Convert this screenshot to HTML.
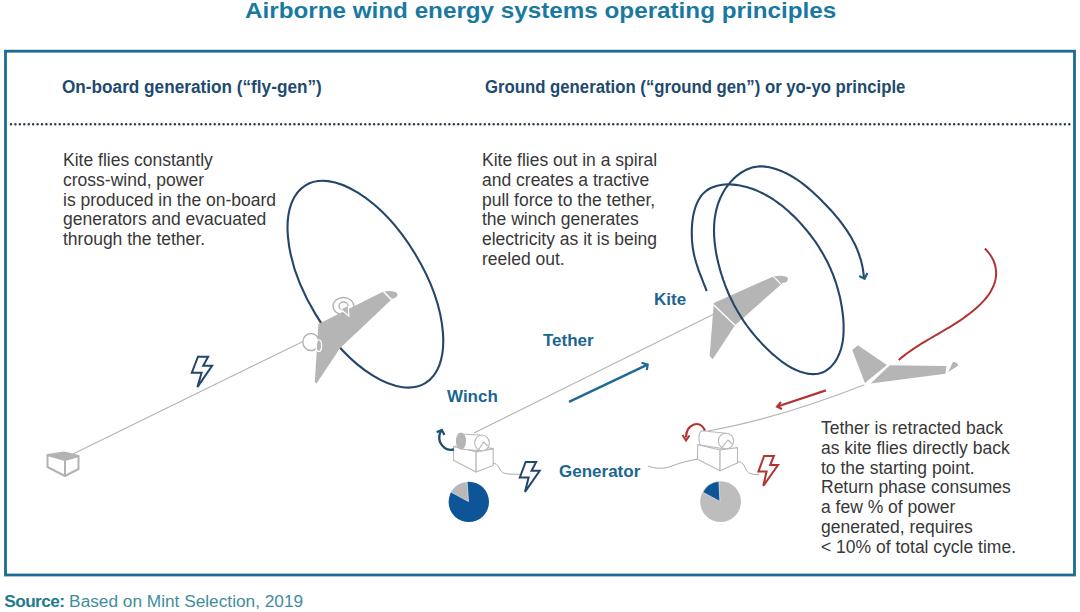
<!DOCTYPE html>
<html><head><meta charset="utf-8"><style>
html,body{margin:0;padding:0;background:#fff;}
body{width:1080px;height:612px;overflow:hidden;position:relative;font-family:"Liberation Sans",sans-serif;}
.t{position:absolute;white-space:nowrap;}
#title{left:245.3px;top:-0.7px;font-size:22.5px;line-height:23px;font-weight:700;color:#1a79a1;transform:scaleX(1.077);transform-origin:0 0;}
#frame{position:absolute;left:4px;top:50px;width:1072px;height:526px;border:3px solid #1b6f96;box-sizing:border-box;}
.h{font-size:18px;line-height:20px;font-weight:700;color:#1e4a70;top:76.5px;transform-origin:0 0;}
.body{font-size:17.5px;line-height:19.8px;color:#383838;}
.lab{font-size:17px;line-height:20px;font-weight:700;color:#1c6690;}
#src{left:4.3px;top:591px;font-size:17.25px;line-height:20px;color:#3f8d9e;}
#src b{color:#1f7a90;letter-spacing:-0.6px;}
svg{position:absolute;left:0;top:0;}
</style></head><body>
<div class="t" id="title">Airborne wind energy systems operating principles</div>
<div class="t h" style="left:62px;transform:scaleX(0.955);">On-board generation (“fly-gen”)</div>
<div class="t h" style="left:485px;transform:scaleX(0.930);">Ground generation (“ground gen”) or yo-yo principle</div>

<div class="t body" style="left:63px;top:151px;">Kite flies constantly<br>cross-wind, power<br>is produced in the on-board<br>generators and evacuated<br>through the tether.</div>
<div class="t body" style="left:482px;top:151px;">Kite flies out in a spiral<br>and creates a tractive<br>pull force to the tether,<br>the winch generates<br>electricity as it is being<br>reeled out.</div>
<div class="t body" style="left:821px;top:419px;">Tether is retracted back<br>as kite flies directly back<br>to the starting point.<br>Return phase consumes<br>a few % of power<br>generated, requires<br>&lt; 10% of total cycle time.</div>

<div class="t lab" style="left:654px;top:290px;">Kite</div>
<div class="t lab" style="left:543px;top:331px;">Tether</div>
<div class="t lab" style="left:447px;top:387px;">Winch</div>
<div class="t lab" style="left:559px;top:462px;">Generator</div>

<div class="t" id="src"><b>Source:</b> Based on Mint Selection, 2019</div>

<svg width="1080" height="612" viewBox="0 0 1080 612">
<rect x="5.5" y="51.2" width="1069" height="523.8" fill="none" stroke="#1b6c92" stroke-width="2.8"/>
<!-- dotted separator -->
<line x1="11" y1="124.3" x2="1073" y2="124.3" stroke="#2b3f4a" stroke-width="2.5" stroke-dasharray="0 4.428" stroke-linecap="round"/>

<!-- ===== LEFT: fly-gen ===== -->
<!-- tether -->
<line x1="72" y1="454.5" x2="304" y2="341" stroke="#b4b4b4" stroke-width="1.1"/>
<!-- ground box -->
<g fill="#fff" stroke="#b3b3b3" stroke-width="2" stroke-linejoin="round">
<path d="M47.5,455 L64,452.5 L78.5,456 L65,460 Z" fill="#b3b3b3"/>
<path d="M47.5,455 L47.5,467 L65,476 L65,460 Z"/>
<path d="M65,460 L78.5,456 L78.5,469 L65,476 Z"/>
</g>
<!-- ellipse 1 (behind kite) -->
<ellipse cx="365.4" cy="284.2" rx="115.6" ry="58.2" transform="rotate(58.8 365.4 284.2)" fill="none" stroke="#23466a" stroke-width="2.1"/>
<!-- rotors behind -->
<g fill="#fff" stroke="#b0b0b0" stroke-width="1.3">
<ellipse cx="343.4" cy="306.1" rx="10.4" ry="8.6"/>
<ellipse cx="311" cy="342" rx="8.2" ry="8.5"/>
</g>
<!-- kite 1 -->
<path d="M318.4,324 L383,291.7 C389,290.5 397,291 397.5,294.5 C397.5,297 394,298.5 392,299 L340,348.3 L316.5,383.5 L314.8,382 Z" fill="#b5b5b5"/>
<line x1="383.5" y1="291.6" x2="391.5" y2="299.6" stroke="#fff" stroke-width="1.5"/>
<g fill="none" stroke="#b0b0b0" stroke-width="1.3">
<ellipse cx="343.5" cy="306" rx="4.5" ry="4"/>
</g>
<path d="M341,309.5 L349,316.3 L348.2,306" fill="#b8b8b8" stroke="#fff" stroke-width="1.2" stroke-linejoin="round"/>
<ellipse cx="318.8" cy="345.7" rx="2.8" ry="5.8" fill="none" stroke="#fff" stroke-width="1.3"/>
<!-- bolt 1 -->
<path transform="translate(0.6,0.5)" d="M197.4,356.2 L207.5,356.2 L202.6,365.3 L211.5,365.3 L196.8,386.6 L201,372.2 L191.2,372.2 Z" fill="none" stroke="#22466c" stroke-width="2" stroke-linejoin="miter"/>

<!-- ===== RIGHT: ground gen ===== -->
<!-- tether 2 -->
<line x1="474" y1="433" x2="714" y2="314" stroke="#b4b4b4" stroke-width="1.1"/>
<!-- kite 2 -->
<path d="M713.8,303 L773.3,276.4 C780,275 788,275.5 788,279 C788,281.5 785,283 782.9,282.7 L735,325.2 L712.7,359.2 L709.6,356 Z" fill="#b5b5b5"/>
<line x1="713.8" y1="305" x2="735" y2="325.2" stroke="#fff" stroke-width="1.4"/>
<line x1="773.3" y1="276.4" x2="780.7" y2="283.8" stroke="#fff" stroke-width="1.2"/>
<!-- spiral -->
<path d="M706.7,291.1 L705.6,288.2 L704.5,285.4 L703.4,282.7 L702.4,280.0 L701.4,277.4 L700.4,274.9 L699.4,272.4 L698.5,269.9 L697.7,267.4 L696.9,265.0 L696.1,262.5 L695.4,260.0 L694.7,257.5 L694.1,255.0 L693.6,252.4 L693.1,249.8 L692.7,247.1 L692.4,244.3 L692.1,241.4 L691.9,238.4 L691.8,235.4 L691.8,232.3 L691.8,229.2 L692.0,226.1 L692.2,223.0 L692.6,219.9 L693.0,216.9 L693.6,213.9 L694.3,211.0 L695.1,208.2 L696.0,205.5 L697.1,202.9 L698.3,200.5 L699.6,198.2 L701.0,196.1 L702.6,194.1 L704.4,192.4 L706.2,190.8 L708.2,189.5 L710.3,188.3 L712.6,187.3 L714.9,186.4 L717.2,185.7 L719.7,185.2 L722.3,184.8 L724.8,184.5 L727.5,184.4 L730.2,184.4 L732.9,184.6 L735.7,184.9 L738.4,185.3 L741.2,185.8 L744.0,186.4 L746.7,187.1 L749.5,187.9 L752.2,188.8 L754.8,189.8 L757.5,190.9 L760.1,192.1 L762.6,193.3 L765.1,194.6 L767.6,196.0 L770.1,197.4 L772.5,198.9 L774.8,200.5 L777.1,202.1 L779.4,203.8 L781.7,205.5 L783.9,207.3 L786.1,209.2 L788.2,211.0 L790.3,212.9 L792.3,214.9 L794.4,216.8 L796.3,218.8 L798.3,220.9 L800.2,222.9 L802.1,225.0 L803.9,227.1 L805.7,229.2 L807.5,231.3 L809.2,233.5 L810.9,235.6 L812.5,237.8 L814.1,240.0 L815.7,242.2 L817.2,244.5 L818.7,246.8 L820.1,249.1 L821.5,251.4 L822.9,253.7 L824.2,256.0 L825.5,258.4 L826.8,260.8 L828.0,263.2 L829.1,265.7 L830.3,268.1 L831.3,270.6 L832.4,273.1 L833.4,275.6 L834.3,278.2 L835.2,280.7 L836.1,283.3 L836.9,286.0 L837.7,288.6 L838.4,291.3 L839.1,293.9 L839.8,296.6 L840.4,299.4 L840.9,302.1 L841.4,304.9 L841.9,307.7 L842.3,310.5 L842.7,313.4 L843.0,316.3 L843.3,319.1 L843.5,322.0 L843.6,324.9 L843.6,327.8 L843.6,330.7 L843.5,333.6 L843.3,336.4 L843.0,339.3 L842.6,342.0 L842.0,344.8 L841.4,347.5 L840.6,350.1 L839.7,352.7 L838.6,355.3 L837.4,357.7 L836.1,360.1 L834.6,362.3 L833.0,364.4 L831.3,366.4 L829.4,368.2 L827.4,369.7 L825.3,371.1 L823.0,372.2 L820.7,373.1 L818.2,373.7 L815.6,374.0 L813.0,374.1 L810.3,373.9 L807.6,373.6 L804.9,373.0 L802.2,372.3 L799.6,371.4 L797.0,370.4 L794.4,369.2 L791.9,368.0 L789.4,366.6 L786.9,365.1 L784.5,363.4 L782.1,361.8 L779.8,360.0 L777.5,358.2 L775.3,356.3 L773.0,354.4 L770.9,352.4 L768.8,350.4 L766.7,348.4 L764.7,346.4 L762.7,344.4 L760.8,342.4 L758.9,340.3 L757.0,338.3 L755.2,336.2 L753.5,334.1 L751.8,332.0 L750.1,329.9 L748.4,327.7 L746.8,325.5 L745.3,323.3 L743.7,321.1 L742.3,318.9 L740.8,316.6 L739.4,314.3 L738.0,312.0 L736.6,309.6 L735.3,307.2 L734.0,304.9 L732.8,302.4 L731.6,300.0 L730.4,297.5 L729.2,295.0 L728.1,292.5 L727.1,290.0 L726.0,287.4 L725.0,284.8 L724.1,282.2 L723.1,279.6 L722.3,276.9 L721.4,274.3 L720.6,271.6 L719.8,268.9 L719.1,266.1 L718.4,263.4 L717.7,260.6 L717.1,257.8 L716.5,255.1 L716.0,252.3 L715.6,249.5 L715.2,246.6 L714.8,243.8 L714.5,241.0 L714.3,238.2 L714.1,235.4 L714.1,232.6 L714.0,229.8 L714.1,227.1 L714.2,224.3 L714.4,221.6 L714.7,218.8 L715.1,216.1 L715.6,213.5 L716.1,210.8 L716.8,208.2 L717.5,205.6 L718.3,203.0 L719.3,200.5 L720.3,198.0 L721.5,195.6 L722.7,193.2 L724.1,190.8 L725.5,188.5 L727.1,186.3 L728.8,184.1 L730.7,181.9 L732.6,179.8 L734.7,177.8 L736.8,175.9 L739.1,174.2 L741.4,172.5 L743.8,171.1 L746.3,169.8 L748.8,168.7 L751.4,167.8 L754.1,167.1 L756.7,166.7 L759.4,166.4 L762.1,166.4 L764.9,166.6 L767.6,167.0 L770.4,167.5 L773.1,168.2 L775.8,169.0 L778.5,169.9 L781.1,171.0 L783.7,172.1 L786.3,173.3 L788.8,174.6 L791.2,176.0 L793.6,177.4 L795.9,178.9 L798.2,180.4 L800.5,182.0 L802.7,183.7 L804.9,185.4 L807.0,187.1 L809.1,188.9 L811.2,190.7 L813.3,192.5 L815.3,194.4 L817.3,196.3 L819.3,198.2 L821.3,200.2 L823.2,202.2 L825.2,204.2 L827.1,206.2 L829.0,208.2 L830.9,210.3 L832.8,212.4 L834.6,214.5 L836.4,216.6 L838.2,218.7 L839.9,220.9 L841.6,223.1 L843.2,225.3 L844.8,227.6 L846.4,229.8 L847.9,232.1 L849.4,234.5 L850.8,236.8 L852.2,239.2 L853.4,241.6 L854.7,244.1 L855.9,246.5 L857.0,249.1 L858.0,251.6 L859.0,254.2 L859.8,256.8 L860.7,259.4 L861.4,262.1 L862.0,264.8 L862.6,267.5 L863.1,270.3 L863.5,273.1 L863.8,276.0 L864.0,278.9" fill="none" stroke="#23466a" stroke-width="2.1"/>
<path d="M859.2,276.1 L864.6,278.8 L867.4,273.1" fill="none" stroke="#1f5f80" stroke-width="2.2"/>

<!-- tether arrow -->
<line x1="569" y1="401.8" x2="647" y2="364.8" stroke="#1f6a92" stroke-width="2.4"/>
<path d="M641.5,362.8 L647.7,364.6 L646.8,370" fill="none" stroke="#1f6a92" stroke-width="2.2"/>

<!-- winch -->
<g fill="#fff" stroke="#b8b8b8" stroke-width="1.1" stroke-linejoin="round">
<path d="M453.5,446.5 L453.5,460.2 L476.1,472 L476.1,451.4 Z"/>
<path d="M476.1,451.4 L493.2,448.9 L493.2,465.6 L476.1,472 Z"/>
<path d="M453.5,446.5 L470,443.5 L493.2,448.9 L476.1,451.4 Z"/>
<path d="M459,434 L480,435 L482,451 L461,449 Z"/>
<ellipse cx="461" cy="441" rx="4.5" ry="8" fill="#b5b5b5" stroke="#b5b5b5"/>
<ellipse cx="482" cy="443" rx="7.3" ry="8"/>
<path d="M477,452.4 L483.4,442 L487.8,446" fill="none"/>
</g>
<path d="M454,449.4 C448,451 443,448 440,442 C438.5,438 439,434.5 441.2,430.5" fill="none" stroke="#1d5070" stroke-width="2.4"/>
<path d="M436.6,432.2 L441.8,430 L444.5,435" fill="none" stroke="#1d5070" stroke-width="2.2"/>
<!-- wire 1 -->
<path d="M493.5,463.3 C498,463.5 499.5,470 502.5,472.4 C505.5,474.3 511,474.2 519.8,474.3" fill="none" stroke="#aaa" stroke-width="1"/>
<!-- bolt 2 -->
<path d="M525.7,461.9 L536.1,461.9 L531.6,470.7 L539.7,470.7 L525,491.9 L528.6,477.5 L519.8,477.5 Z" fill="none" stroke="#22466c" stroke-width="2" stroke-linejoin="miter"/>
<!-- pie 1 -->
<circle cx="468.8" cy="501.9" r="20.2" fill="#0d5597"/>
<path d="M468.5,501.6 L467.1,481.7 A20.2,20.2 0 0 0 451.1,492.1 Z" fill="#b8b8b8" stroke="#fff" stroke-width="0.6"/>

<!-- kite 3 -->
<path d="M852.2,350 L857.9,345.2 L886.9,365.1 L864.9,383 Z" fill="#b5b5b5"/>
<path d="M889.8,365.3 L946.5,366 L945.3,373.8 L870.7,383.4 Z" fill="#b5b5b5"/>
<path d="M948.2,372 L952.8,362.2 C955,361.5 958.5,364 958,365.7 Z" fill="#b5b5b5"/>
<!-- red curve -->
<path d="M984.9,248.5 L987.2,251.0 L989.2,253.5 L991.0,256.0 L992.5,258.6 L993.7,261.2 L994.7,263.8 L995.4,266.4 L995.8,269.0 L996.1,271.6 L996.1,274.2 L995.9,276.8 L995.5,279.4 L994.9,281.9 L994.1,284.3 L993.1,286.8 L992.0,289.1 L990.7,291.4 L989.3,293.7 L987.8,295.9 L986.1,298.0 L984.3,300.1 L982.4,302.1 L980.5,304.1 L978.5,306.0 L976.4,307.9 L974.3,309.8 L972.2,311.5 L970.0,313.3 L967.8,314.9 L965.5,316.6 L963.3,318.2 L961.0,319.8 L958.7,321.3 L956.4,322.8 L954.0,324.3 L951.7,325.8 L949.3,327.3 L946.9,328.7 L944.5,330.1 L942.1,331.5 L939.8,332.9 L937.4,334.3 L935.0,335.7 L932.6,337.1 L930.2,338.5 L927.8,339.9 L925.4,341.3 L923.1,342.7 L920.7,344.2 L918.4,345.6 L916.1,347.1 L913.8,348.6 L911.6,350.1 L909.3,351.7 L907.1,353.3 L905.0,354.9 L902.8,356.6 L900.7,358.3 L898.7,360.0" fill="none" stroke="#b03532" stroke-width="2"/>
<!-- tether 3 -->
<path d="M707.5,431 Q779,418.5 864.3,384.8" fill="none" stroke="#b4b4b4" stroke-width="1.1"/>
<!-- red arrow -->
<line x1="825.9" y1="390.4" x2="777.5" y2="406.5" stroke="#b03532" stroke-width="2.2"/>
<path d="M781,402 L777,406.7 L782,409" fill="none" stroke="#b03532" stroke-width="2"/>
<!-- generator 2 -->
<g fill="#fff" stroke="#b8b8b8" stroke-width="1.1" stroke-linejoin="round">
<path d="M726,433.2 L701.5,430.7 C698.3,433 698.3,441.5 700.5,445 L722,448.5 Z"/>
<ellipse cx="726" cy="441" rx="7.6" ry="7.8"/>
<path d="M697.8,444.6 L697.4,459.3 L720,470.8 L720.1,450 Z"/>
<path d="M720.1,450 L737.5,447.6 L737.5,462.9 L720,470.8 Z"/>
<path d="M721,448.8 L727.9,440 L732.8,444.4" fill="none"/>
</g>
<path d="M705,430.5 C703,425 698,423 694,424.5 C689,426.5 686,431 686,437.5" fill="none" stroke="#b03532" stroke-width="2.2"/>
<path d="M682.5,435 L686,440.5 L689.5,435.5" fill="none" stroke="#b03532" stroke-width="2"/>
<!-- wires gen 2 -->
<path d="M648.4,466 C655,469 664,469 672,466 C682,462 690,460.5 697.4,459.3" fill="none" stroke="#aaa" stroke-width="1"/>
<path d="M737.5,462.3 C742,461 743.5,464 745.5,468.5 C747.5,473 751,475 759,474.5" fill="none" stroke="#aaa" stroke-width="1"/>
<!-- red bolt -->
<path d="M764.1,456 L773.9,456 L770.2,465 L778,465 L763.3,485.8 L766.6,471.6 L758.4,471.6 Z" fill="none" stroke="#b03532" stroke-width="2" stroke-linejoin="miter"/>
<!-- pie 2 -->
<circle cx="720.6" cy="501.6" r="20.4" fill="#bdbdbd"/>
<path d="M719.9,501.4 L718.9,481.3 A20.4,20.4 0 0 0 702.8,492.2 Z" fill="#0d5597" stroke="#fff" stroke-width="0.6"/>
</svg>
</body></html>
